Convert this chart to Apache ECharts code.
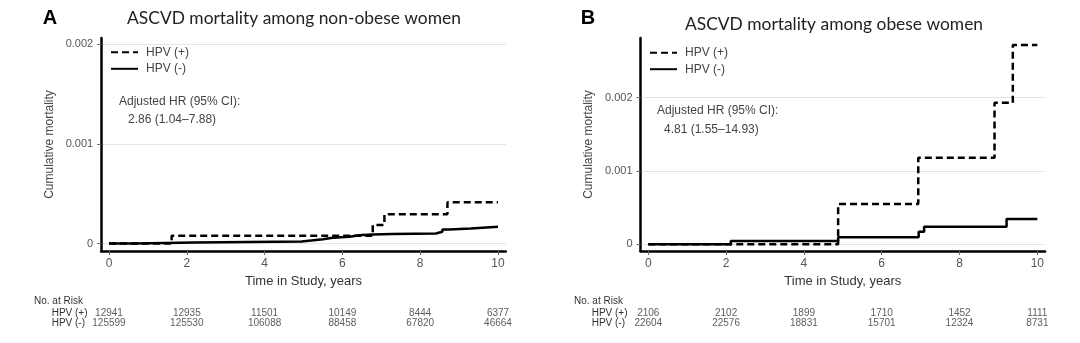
<!DOCTYPE html>
<html>
<head>
<meta charset="utf-8">
<script src="https://cdn.jsdelivr.net/npm/echarts@6/dist/echarts.min.js"></script>
<style>
html,body{margin:0;padding:0;background:#fff;}
#chart{width:1080px;height:343px;}
</style>
</head>
<body>
<div id="chart"></div>
<script>
// ---------- data ----------
const xTicks = [0, 2, 4, 6, 8, 10];
const yTicks = [0, 0.001, 0.002];
const groups = ['HPV (+)', 'HPV (-)'];

// Panel A: non-obese women
const posA_t = [0, 1.61, 6.78, 7.08, 8.70, 10.0];
const posA_v = [0, 0.000078, 0.000186, 0.000293, 0.000414, 0.000414];
const negA_t = [0, 0.67, 2.2, 4.95, 5.2, 5.5, 5.75, 6.18, 6.5, 6.78, 7.28, 8.4, 8.57, 8.74, 9.3, 10.0];
const negA_v = [0, 0.00001, 0.00002, 0.00003, 0.000042, 0.000058, 0.000068, 0.000085, 0.00009, 0.000095, 0.0001, 0.000118, 0.000142, 0.000152, 0.000169, 0.000169];

// Panel B: obese women
const posB_t = [0, 4.88, 6.94, 8.90, 9.37, 10.0];
const posB_v = [0, 0.00055, 0.00118, 0.00193, 0.00272, 0.00272];
const negB_t = [0, 2.12, 4.88, 6.95, 7.09, 9.21, 10.0];
const negB_v = [0, 0.000045, 0.000095, 0.000172, 0.00024, 0.000345, 0.000345];

// Numbers at risk
const riskPosA = [12941, 12935, 11501, 10149, 8444, 6377];
const riskNegA = [125599, 125530, 106088, 88458, 67820, 46664];
const riskPosB = [2106, 2102, 1899, 1710, 1452, 1111];
const riskNegB = [22604, 22576, 18831, 15701, 12324, 8731];

const titleA = 'ASCVD mortality among non-obese women';
const titleB = 'ASCVD mortality among obese women';
const hrA = ['Adjusted HR (95% CI):', '2.86 (1.04\u20137.88)'];
const hrB = ['Adjusted HR (95% CI):', '4.81 (1.55\u201314.93)'];

// ---------- helpers ----------
const FONT = '"Liberation Sans", Arial, sans-serif';
const pairs = (t, v) => t.map((x, i) => [x, v[i]]);
const riskData = (pos, neg) => xTicks.map((t, i) => [t, groups[0], pos[i]])
  .concat(xTicks.map((t, i) => [t, groups[1], neg[i]]));

function xAxisMain(gi) {
  return {
    type: 'value', gridIndex: gi, min: -0.2, max: 10.2,
    name: 'Time in Study, years', nameLocation: 'middle', nameGap: 23,
    nameTextStyle: {fontFamily: FONT, fontSize: 13, color: '#333'},
    axisLine: {show: true, onZero: false, lineStyle: {color: '#000', width: 2.5}},
    axisTick: {show: true, length: 4, customValues: xTicks, lineStyle: {color: '#666', width: 1}},
    axisLabel: {customValues: xTicks, margin: 7, fontFamily: FONT, fontSize: 12, color: '#555'},
    splitLine: {show: false}
  };
}
function yAxisMain(gi, mn, mx) {
  return {
    type: 'value', gridIndex: gi, min: mn, max: mx,
    name: 'Cumulative mortality', nameLocation: 'middle', nameGap: 46,
    nameTextStyle: {fontFamily: FONT, fontSize: 12, color: '#444'},
    axisLine: {show: true, onZero: false, lineStyle: {color: '#000', width: 2.5}},
    axisTick: {show: true, length: 4, customValues: yTicks, lineStyle: {color: '#666', width: 1}},
    axisLabel: {customValues: yTicks, margin: 8, fontFamily: FONT, fontSize: 11, color: '#555',
      formatter: v => (v === 0 ? '0' : v.toFixed(3))},
    splitLine: {show: true, lineStyle: {color: '#e4e4e4', width: 1}}
  };
}
function xAxisRisk(gi) {
  return {type: 'value', gridIndex: gi, min: -0.2, max: 10.2, show: false};
}
function yAxisRisk(gi, margin) {
  return {
    type: 'category', gridIndex: gi, data: groups.slice().reverse(),
    axisLine: {show: false}, axisTick: {show: false}, splitLine: {show: false},
    axisLabel: {interval: 0, margin: margin, align: 'left', fontFamily: FONT, fontSize: 10, color: '#333'}
  };
}
function stepSeries(name, xi, data, dashed) {
  return {
    name: name, type: 'line', step: 'end', xAxisIndex: xi, yAxisIndex: xi,
    data: data, symbol: 'none', showSymbol: false, animation: false,
    lineStyle: {color: '#000', width: 2.5, type: dashed ? [7, 4] : 'solid', cap: 'butt'},
    itemStyle: {color: 'rgba(0,0,0,0)'}, z: dashed ? 2 : 3
  };
}
function riskSeries(name, xi, data) {
  return {
    name: name, type: 'scatter', xAxisIndex: xi, yAxisIndex: xi, data: data,
    symbolSize: 0.01, itemStyle: {color: 'rgba(0,0,0,0)'}, animation: false, silent: true,
    label: {show: true, position: 'inside', formatter: p => String(p.value[2]),
      fontFamily: FONT, fontSize: 10, color: '#333'}
  };
}
function txt(x, y, text, font, color, align) {
  return {type: 'text', x: x, y: y, silent: true,
    style: {text: text, font: font, fill: color, textAlign: align || 'left', align: align || 'left',
      textVerticalAlign: 'middle', verticalAlign: 'middle'}};
}
function legend(left, top) {
  return {
    orient: 'vertical', left: left, top: top, padding: 0, itemWidth: 27, itemHeight: 12, itemGap: 4.5,
    data: groups, selectedMode: false,
    itemStyle: {opacity: 0, color: 'rgba(0,0,0,0)', borderWidth: 0},
    textStyle: {fontFamily: FONT, fontSize: 12, color: '#444', padding: [0, 0, 0, 3]}
  };
}

const option = {
  backgroundColor: '#fff',
  animation: false,
  grid: [
    {left: 101.2, top: 38, width: 404.6, height: 213},
    {left: 640.5, top: 38, width: 404.6, height: 213},
    {left: 101.2, top: 308, width: 404.6, height: 20},
    {left: 640.5, top: 308, width: 404.6, height: 20}
  ],
  xAxis: [xAxisMain(0), xAxisMain(1), xAxisRisk(2), xAxisRisk(3)],
  yAxis: [yAxisMain(0, -0.000075, 0.002063), yAxisMain(1, -0.0000914, 0.002815),
          yAxisRisk(2, 49.5), yAxisRisk(3, 48.8)],
  legend: [legend(110, 46.3), legend(649, 46.7)],
  series: [
    stepSeries(groups[0], 0, pairs(posA_t, posA_v), true),
    stepSeries(groups[1], 0, pairs(negA_t, negA_v), false),
    stepSeries(groups[0], 1, pairs(posB_t, posB_v), true),
    stepSeries(groups[1], 1, pairs(negB_t, negB_v), false),
    riskSeries('riskA', 2, riskData(riskPosA, riskNegA)),
    riskSeries('riskB', 3, riskData(riskPosB, riskNegB))
  ],
  graphic: [
    txt(50, 18, 'A', 'bold 20px ' + FONT, '#000', 'center'),
    txt(588, 18, 'B', 'bold 20px ' + FONT, '#000', 'center'),
    txt(294, 18, titleA, '17.4px Lato, sans-serif', '#222', 'center'),
    txt(834, 24, titleB, '17.4px Lato, sans-serif', '#222', 'center'),
    txt(119, 101.7, hrA[0], '12px ' + FONT, '#444'),
    txt(128, 120, hrA[1], '12px ' + FONT, '#444'),
    txt(657, 111, hrB[0], '12px ' + FONT, '#444'),
    txt(664, 130, hrB[1], '12px ' + FONT, '#444'),
    txt(34, 301, 'No. at Risk', '10px ' + FONT, '#333'),
    txt(574, 301, 'No. at Risk', '10px ' + FONT, '#333')
  ]
};

const chart = echarts.init(document.getElementById('chart'), null, {renderer: 'canvas'});
chart.setOption(option);
</script>
</body>
</html>
